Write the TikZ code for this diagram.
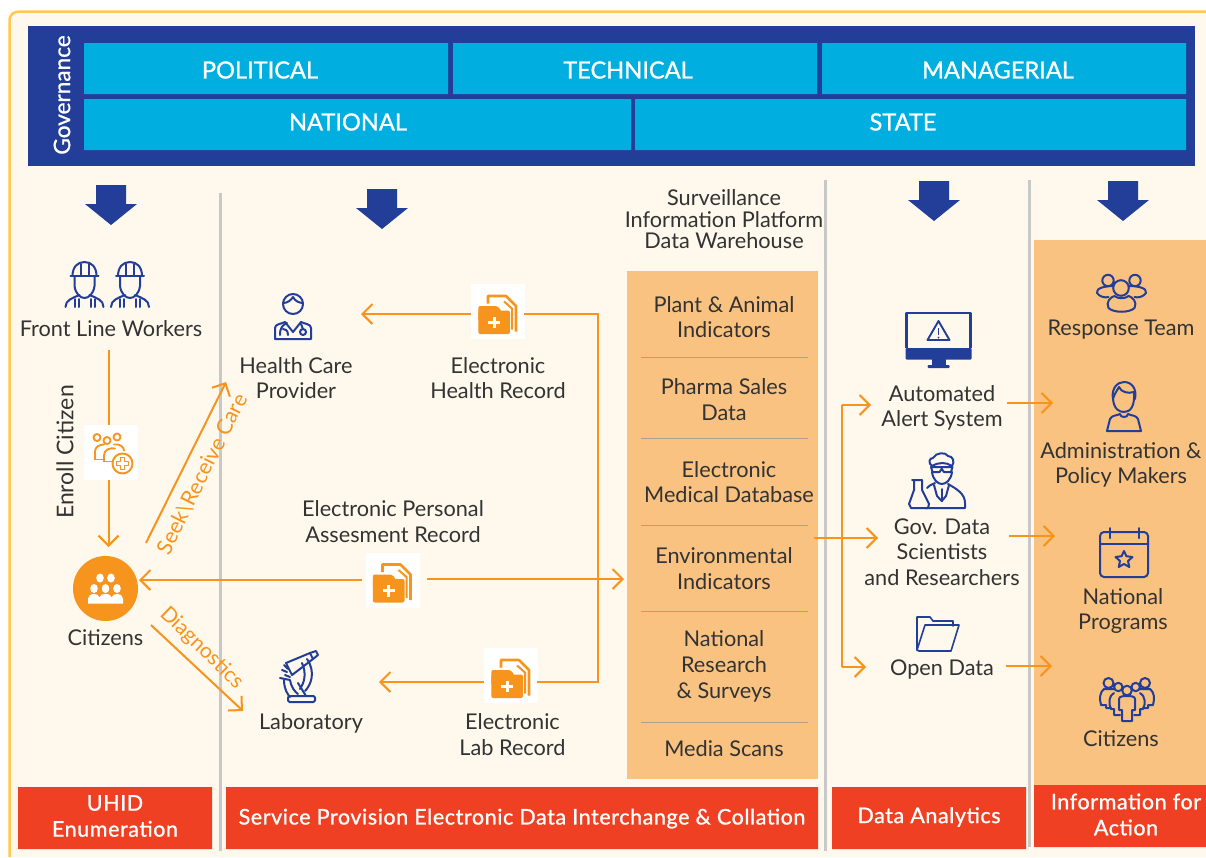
\documentclass[tikz,border=0pt]{standalone}
\usepackage{fontspec}
\setmainfont{Lato}
\newfontfamily\medfont{Lato}[FakeBold=1.0]
\newfontfamily\medspaced{Lato}[FakeBold=1.0,LetterSpace=2.7]
\usetikzlibrary{arrows.meta}
\definecolor{cream}{HTML}{FFF8EC}
\definecolor{frameY}{HTML}{FFC94D}
\definecolor{navy}{HTML}{233E99}
\definecolor{cyanbox}{HTML}{00AEDF}
\definecolor{redbox}{HTML}{F04023}
\definecolor{panel}{HTML}{F9C280}
\definecolor{orangeL}{HTML}{F7941D}
\definecolor{greyL}{HTML}{C8C8C8}
\definecolor{sepL}{HTML}{B09F8C}
\definecolor{ink}{HTML}{333333}
\tikzset{
 x=1pt,y=-1pt,
 lbl/.style={text=ink,align=center,inner sep=0pt,font=\fontsize{21.7}{25.4}\selectfont},
 headtxt/.style={text=white,inner sep=0pt,font=\fontsize{23.6}{27}\selectfont\medfont},
 redbar/.style={fill=redbox},
 redlbl/.style={text=white,align=center,inner sep=0pt,font=\fontsize{21.5}{26}\selectfont\medspaced},
 flow/.style={draw=orangeL,line width=2pt,-{Straight Barb[length=10pt,width=20pt,line width=2pt]}},
 plain/.style={draw=orangeL,line width=2pt},
 divider/.style={draw=greyL,line width=3pt},
 sep/.style={draw=sepL,line width=1pt},
 whitebox/.style={fill=white,inner sep=0pt,minimum width=54pt,minimum height=55pt},
 bigarrow/.style={fill=navy},
 ic/.style={draw=navy,line width=2pt,line join=round,line cap=round},
 oc/.style={draw=orangeL,line width=1.9pt,line join=round,line cap=round},
 pics/worker/.style={code={
  \draw[ic] (-12,-9) .. controls (-12,-18) and (-7,-23) .. (0,-23) .. controls (7,-23) and (12,-18) .. (12,-9);
  \draw[ic] (-14,-9)--(14,-9) (-4,-21)--(-4,-9) (4,-21)--(4,-9);
  \draw[ic] (-10,-9) -- (-10,1) .. controls (-9,9) and (-4,13) .. (0,13) .. controls (4,13) and (9,9) .. (10,1) -- (10,-9);
  \draw[ic] (-19,22) .. controls (-19,15) and (-12,13) .. (-5,10);
  \draw[ic] (19,22) .. controls (19,15) and (12,13) .. (5,10);
  \draw[ic] (-10,14)--(-10,22) (-6,14)--(-6,22) (10,14)--(10,22) (6,14)--(6,22);
 }},
 pics/doctor/.style={code={
  \draw[ic] (0,-12) circle (10);
  \draw[ic] (-10,-13) .. controls (-5,-13) and (-2,-16) .. (0,-19) .. controls (2,-15) and (6,-13) .. (10,-13);
  \draw[ic] (-18,23) -- (-18,12) .. controls (-18,8) and (-12,8) .. (-8,6) -- (0,16) -- (8,6) .. controls (12,8) and (18,8) .. (18,12) -- (18,23) -- cycle;
  \draw[ic] (-6,7) .. controls (-10,9) and (-13,11) .. (-13,19);
  \draw[ic] (-5,19) .. controls (-5,14) and (-8,13) .. (-10,13);
  \draw[ic] (8,8)--(10,13);
  \draw[ic] (10,16) circle (3);
 }},
 pics/enroll/.style={code={
  \draw[oc] (-14,-15) circle (3.5) (-4,-12) circle (3.5) (6,-15.5) circle (3.5);
  \draw[oc] (-16,7) -- (-16,-1) .. controls (-16,-6) and (-11,-8) .. (-7,-8);
  \draw[oc] (-16,7) -- (-7,7);
  \draw[oc] (-7,9) -- (-7,3) .. controls (-7,-3) and (-1,-5) .. (4,-4) ;
  \draw[oc] (-7,9) -- (2,9);
  \draw[oc] (3,-8) .. controls (8,-9) and (13,-6) .. (13,-2);
  \draw[oc,fill=white] (11.5,11) circle (10);
  \draw[draw=orangeL,line width=1.4pt,line join=round] (9.5,5) -- (13.5,5) -- (13.5,9) -- (17.5,9) -- (17.5,13) -- (13.5,13) -- (13.5,17) -- (9.5,17) -- (9.5,13) -- (5.5,13) -- (5.5,9) -- (9.5,9) -- cycle;
 }},
 pics/docfolder/.style={code={
  \draw[draw=orangeL,line width=2.6pt,line join=round] (-10,-8) -- (-10,-15.5) -- (8,-15.5) -- (18,-5.5) -- (18,20);
  \fill[orangeL,rounded corners=2pt] (-19.7,22.5) rectangle (12,-1);
  \fill[orangeL,rounded corners=2pt] (-19.7,10) -- (-19.7,-5.5) -- (0,-5.5) -- (4,1) -- (4,10) -- cycle;
  \draw[draw=orangeL,line width=2pt] (6,-10) -- (14,-3) -- (14,18);
  \draw[white,line width=3pt] (-4,5)--(-4,16.5) (-10,10.8)--(2,10.8);
 }},
 pics/crowdwhite/.style={code={
  \fill[white] (-5.5,-10.5) ellipse (3.8 and 4.5) (5.5,-10.5) ellipse (3.8 and 4.5);
  \fill[white] (-11.5,0) ellipse (3.8 and 4.5) (0,0) ellipse (3.8 and 4.5) (11.5,0) ellipse (3.8 and 4.5);
  \fill[white] (-17.5,15) -- (-17.5,10) .. controls (-17,4) and (-7,4) .. (-6,9) .. controls (-6,4) and (6,4) .. (6,9) .. controls (7,4) and (17,4) .. (17.5,10) -- (17.5,15) -- cycle;
 }},
 pics/microscope/.style={code={
  \draw[ic] (-13,-14) -- (11,-24) -- (14,-18) -- (-7,-2) -- cycle;
  \draw[ic] (11,-24) -- (17,-26) -- (19,-22) -- (14,-18);
  \draw[ic] (-15,-12) -- (-11,-8) (-17,-7)--(-12,-5) (-14,-2) -- (-9,0);
  \draw[ic] (8,-18) .. controls (17,-5) and (12,8) .. (6,14);
  \draw[ic] (3,-14) .. controls (8,-3) and (5,6) .. (1,12);
  \draw[ic] (-19,1) -- (-9,3) .. controls (-8,10) and (-4,15) .. (-1,17);
  \draw[ic] (-15,3) .. controls (-15,12) and (-11,18) .. (-9,20);
  \draw[ic] (-1,6) -- (7,19);
  \draw[ic,rounded corners=1.5pt] (-11,19) rectangle (16,25);
 }},
 pics/monitor/.style={code={
  \draw[draw=navy,line width=2.6pt,line join=round] (-32,8) -- (-32,-27) -- (32,-27) -- (32,8);
  \fill[navy,rounded corners=1pt] (-33,8) rectangle (33,19.5);
  \fill[navy] (-7,19) rectangle (7,25);
  \fill[navy,rounded corners=1pt] (-11,25) rectangle (11,28);
  \draw[draw=navy,line width=1.9pt,line join=round] (0,-19) -- (11,0) -- (-11,0) -- cycle;
  \draw[navy,line width=1.5pt] (0,-12) -- (0,-5);
  \fill[navy] (0,-2.3) circle (1);
 }},
 pics/scientist/.style={code={
  \draw[ic] (-5,-8) .. controls (-4,0) and (1,4) .. (4.7,4) .. controls (9,4) and (14,0) .. (15,-8);
  \draw[ic] (-5,-14) .. controls (-9,-17) and (-8,-22) .. (-4,-22) .. controls (-1,-28) and (9,-28) .. (11,-24) .. controls (16,-24) and (18,-18) .. (15,-14) .. controls (9,-18) and (2,-18) .. (-5,-14);
  \draw[ic] (-6,-13) -- (15.5,-13) -- (14,-8) -- (7,-8) -- (4.7,-11) -- (2.5,-8) -- (-4.5,-8) -- cycle;
  \draw[ic] (-2,3) .. controls (-6,5) and (-9,6) .. (-10,8);
  \draw[ic] (-12,28) -- (28,28) -- (28,23) .. controls (28,14) and (20,9) .. (11,4);
  \draw[ic] (-3,5) -- (0,16) -- (4.7,21) -- (9,16) -- (12,5);
  \draw[ic] (4.7,9) -- (4.7,21);
  \draw[ic] (-25,0) -- (-15,0) (-23,0) -- (-23,10) -- (-28,24) -- (-26,28) -- (-9,28) -- (-8,24) -- (-15,10) -- (-15,0);
 }},
 pics/team/.style={code={
  \draw[ic] (-13.5,-11.5) circle (5.7) (13.5,-11.5) circle (5.7) (-0.5,-4) circle (7.8);
  \draw[ic] (-8,-6) .. controls (-16,-6) and (-26,-4) .. (-24.5,1) .. controls (-22,5) and (-16,6) .. (-13,5);
  \draw[ic] (8,-6) .. controls (16,-6) and (26,-4) .. (24.5,1) .. controls (22,5) and (16,6) .. (13,5);
  \draw[ic] (-13,16) .. controls (-16,10) and (-11,5) .. (-7,4) .. controls (-3,7) and (3,7) .. (7,4) .. controls (11,5) and (16,10) .. (13,16) .. controls (8,21) and (-8,21) .. (-13,16) -- cycle;
 }},
 pics/admin/.style={code={
  \draw[ic] (-11,-8) .. controls (-13,-18) and (-7,-25) .. (0,-25) .. controls (8,-25) and (13,-18) .. (11,-8);
  \draw[ic] (-11,-8) .. controls (-10,2) and (-5,5) .. (0,5) .. controls (6,5) and (11,0) .. (10,-15) .. controls (4,-13) and (-3,-15) .. (-5,-20);
  \draw[ic] (-5,-20) .. controls (-8,-15) and (-10,-12) .. (-11,-8);
  \draw[ic] (-17,24) -- (17,24) -- (14,12) .. controls (12,8) and (8,9) .. (4,7) .. controls (4,11) and (-4,11) .. (-4,7) .. controls (-8,9) and (-12,8) .. (-14,12) -- cycle;
 }},
 pics/calendar/.style={code={
  \draw[ic,rounded corners=4pt] (-24,-21) rectangle (24,24);
  \draw[ic] (-24,-9)--(24,-9) (-14.5,-25)--(-14.5,-15) (14.5,-25)--(14.5,-15);
  \draw[ic] (0,-2) -- (2.4,3.2) -- (8.5,4) -- (4,8) -- (5.3,14) -- (0,11) -- (-5.3,14) -- (-4,8) -- (-8.5,4) -- (-2.4,3.2) -- cycle;
 }},
 pics/openfolder/.style={code={
  \draw[ic,line width=1.6pt] (-21,16) -- (-21,-17) -- (-8,-17) -- (-5,-13) -- (15,-13) -- (15,-8);
  \draw[ic,line width=1.6pt] (-21,16) -- (-13,-9) -- (21,-9) -- (13,17) -- (-19,17) -- cycle;
 }},
 pics/crowd/.style={code={
  \draw[ic] (-18.5,-16) circle (5) (18,-16) circle (5) (-8.7,-12) circle (4.2) (8.7,-12) circle (4.2) (0,-8.5) circle (4.8);
  \draw[ic] (-13,-10) -- (-23,-10) .. controls (-27,-7) and (-28,-1) .. (-26,6) -- (-21,6) -- (-21,9) -- (-16,9);
  \draw[ic] (13,-10) -- (23,-10) .. controls (27,-7) and (28,-1) .. (26,6) -- (21,6) -- (21,9) -- (16,9);
  \draw[ic] (-13,-6) .. controls (-18,-4) and (-19,5) .. (-16,10) -- (-13,10) -- (-13,16) -- (-7,16);
  \draw[ic] (13,-6) .. controls (18,-4) and (19,5) .. (16,10) -- (13,10) -- (13,16) -- (7,16);
  \draw[ic] (-8,11) -- (-8,0) .. controls (-8,-3) and (-3,-3) .. (0,-3) .. controls (3,-3) and (8,-3) .. (8,0) -- (8,11) -- (5,11) -- (5,22) -- (-5,22) -- (-5,11) -- cycle;
 }},
}
\begin{document}
\begin{tikzpicture}
\useasboundingbox (0,0) rectangle (1206,857);
% page frame
\fill[cream] (9.5,857) -- (9.5,21) .. controls (9.5,14) and (14,11.5) .. (20,11.5) -- (1206,11.5) -- (1206,857) -- cycle;
\draw[frameY,line width=2.5pt] (9.5,857) -- (9.5,21) .. controls (9.5,14) and (14,11.5) .. (20,11.5) -- (1206,11.5);
% governance
\fill[navy] (28,26) rectangle (1195,166);
\fill[cyanbox] (84,43) rectangle (448,94) (453,43) rectangle (817,94) (822,43) rectangle (1186,94);
\fill[cyanbox] (84,99) rectangle (631,150) (635,99) rectangle (1186,150);
\node[text=white,rotate=90,inner sep=0pt,font=\fontsize{22.6}{25}\selectfont\medfont] (gov) at (62,95) {Governance};
\node[headtxt] (pol) at (260,70) {POLITICAL};
\node[headtxt] (tec) at (628,70) {TECHNICAL};
\node[headtxt] (man) at (998,70) {MANAGERIAL};
\node[headtxt] (nat) at (348,122) {NATIONAL};
\node[headtxt] (sta) at (903,122) {STATE};
% big arrows
\fill[bigarrow] (96,185) -- (126,185) -- (126,204) -- (137,204) -- (111,225) -- (85,204) -- (96,204) -- cycle;
\fill[bigarrow] (367,189) -- (397,189) -- (397,208) -- (408,208) -- (382,229) -- (356,208) -- (367,208) -- cycle;
\fill[bigarrow] (919,181) -- (949,181) -- (949,200) -- (960,200) -- (934,221) -- (908,200) -- (919,200) -- cycle;
\fill[bigarrow] (1108,181) -- (1138,181) -- (1138,200) -- (1149,200) -- (1123,221) -- (1097,200) -- (1108,200) -- cycle;
% panels
\fill[panel] (1034,240) rectangle (1206,785);
\fill[panel] (627,271) rectangle (818,779);
\draw[sep] (641,357.5)--(808,357.5) (641,438)--(808,438) (641,525)--(808,525) (641,611)--(808,611) (641,722)--(808,722);
% dividers
\draw[divider] (220.5,193)--(220.5,851);
\draw[divider] (825.5,180)--(825.5,851);
\draw[divider] (1029.5,180)--(1029.5,847);
% red footers
\fill[redbar] (18,787) rectangle (212,849) (226,787) rectangle (818,849) (832,787) rectangle (1026,849) (1034,785) rectangle (1206,847);
\node[redlbl] (uhid) at (115,816) {UHID\\Enumeration};
\node[redlbl] (serv) at (522,818.5) {Service Provision Electronic Data Interchange \& Collation};
\node[redlbl] (ana) at (929,817) {Data Analytics};
\node[redlbl] (info) at (1126,814.5) {Information for\\Action};
% white icon boxes
\node[whitebox] (boxEnroll) at (111,452.5) {};
\node[whitebox] (boxEHR) at (498,311.5) {};
\node[whitebox] (boxEPA) at (392.5,580) {};
\node[whitebox] (boxLab) at (511,675.5) {};
\node[circle,fill=orangeL,minimum size=65pt,inner sep=0pt] (citC) at (105.5,588.5) {};
% icons
\pic at (84.5,285) {worker};
\pic at (130,285) {worker};
\pic at (293,316) {doctor};
\pic at (111,452.5) {enroll};
\pic at (498,311.5) {docfolder};
\pic at (392.5,580) {docfolder};
\pic at (511,675.5) {docfolder};
\pic at (105.5,588.5) {crowdwhite};
\pic at (299,677) {microscope};
\pic at (938.5,340) {monitor};
\pic at (937,480) {scientist};
\pic at (1121.5,292) {team};
\pic at (1124,407) {admin};
\pic at (1124,553) {calendar};
\pic at (938,634) {openfolder};
\pic at (1127,699) {crowd};
% labels
\node[lbl] (flw) at (111,329) {Front Line Workers};
\node[lbl,rotate=90,font=\fontsize{23}{25}\selectfont] (enrollT) at (65,452) {Enroll Citizen};
\node[lbl] (hcp) at (296,378) {Health Care\\Provider};
\node[lbl] (ehr) at (498,378) {Electronic\\Health Record};
\node[lbl] (epa) at (393,521.5) {Electronic Personal\\Assesment Record};
\node[lbl] (cit) at (105.5,638) {Citizens};
\node[lbl] (labT) at (311,723.5) {Laboratory};
\node[lbl] (elr) at (512.5,734.5) {Electronic\\Lab Record};
\node[lbl,font=\fontsize{21.7}{21.5}\selectfont] (sip) at (724,219.5) {Surveillance\\Information Platform\\Data Warehouse};
\node[lbl] (c1) at (724,317) {Plant \& Animal\\Indicators};
\node[lbl] (c2) at (724,399.5) {Pharma Sales\\Data};
\node[lbl] (c3) at (729,482) {Electronic\\Medical Database};
\node[lbl] (c4) at (724,568.5) {Environmental\\Indicators};
\node[lbl,font=\fontsize{21.7}{26}\selectfont] (c5) at (724,666.5) {National\\Research\\\& Surveys};
\node[lbl] (c6) at (724,749) {Media Scans};
\node[lbl] (auto) at (942,408) {Automated\\Alert System};
\node[lbl] (gds) at (942,552) {Gov. Data\\Scientists\\and Researchers};
\node[lbl] (open) at (942,669) {Open Data};
\node[lbl] (resp) at (1121,330) {Response Team};
\node[lbl] (adm) at (1121,465) {Administration \&\\Policy Makers};
\node[lbl] (npr) at (1123,611) {National\\Programs};
\node[lbl] (cit2) at (1121,739) {Citizens};
\node[text=orangeL,rotate=63.5,inner sep=0pt,font=\fontsize{21.5}{24}\selectfont] (seekT) at (202,474) {Seek\textbackslash Receive Care};
\node[text=orangeL,rotate=-44,inner sep=0pt,font=\fontsize{21}{24}\selectfont] (diagT) at (201.5,648) {Diagnostics};
% connector ends
\coordinate (flwB) at (108.5,350);
\coordinate (citT) at (108.5,547);
\coordinate (seekA) at (146,543);
\coordinate (seekB) at (226,382);
\coordinate (diagA) at (151,625);
\coordinate (diagB) at (243,711);
\coordinate (hcpR) at (361,314);
\coordinate (labR) at (379,682);
\coordinate (busT) at (598,314);
\coordinate (busB) at (598,682);
\coordinate (colL) at (624,579);
\coordinate (colR) at (814,538);
\coordinate (gdsL) at (878,538);
\coordinate (alTop) at (842,405);
\coordinate (alBot) at (842,667);
\coordinate (autoL) at (871,405);
\coordinate (openL) at (866,667);
\coordinate (a1) at (1007,403); \coordinate (a2) at (1053,403);
\coordinate (b1) at (1009,536); \coordinate (b2) at (1055,536);
\coordinate (d1) at (1006,666); \coordinate (d2) at (1052,666);
\coordinate (eL) at (362,580);
\coordinate (eR) at (427,579);
\coordinate (citR) at (139,580);
\coordinate (ehrE) at (471,314);
\coordinate (ehrO) at (525,314);
\coordinate (labE) at (484,682);
\coordinate (labO) at (538,682);
% connectors
\draw[plain] (flwB) -- (boxEnroll.north -| flwB);
\draw[flow] (boxEnroll.south -| flwB) -- (citT);
\draw[flow] (seekA) -- (seekB);
\draw[flow] (diagA) -- (diagB);
\draw[flow] (ehrE) -- (hcpR);
\draw[flow] (labE) -- (labR);
\draw[plain,line cap=rect] (ehrO) -- (busT) -- (busB) -- (labO);
\draw[flow] (eL) -- (citR);
\draw[flow] (eR) -- (colL);
\draw[flow] (colR) -- (gdsL);
\draw[plain] (alTop) -- (alBot);
\draw[flow] (alTop) -- (autoL);
\draw[flow] (alBot) -- (openL);
\draw[flow] (a1) -- (a2);
\draw[flow] (b1) -- (b2);
\draw[flow] (d1) -- (d2);
\end{tikzpicture}
\end{document}
